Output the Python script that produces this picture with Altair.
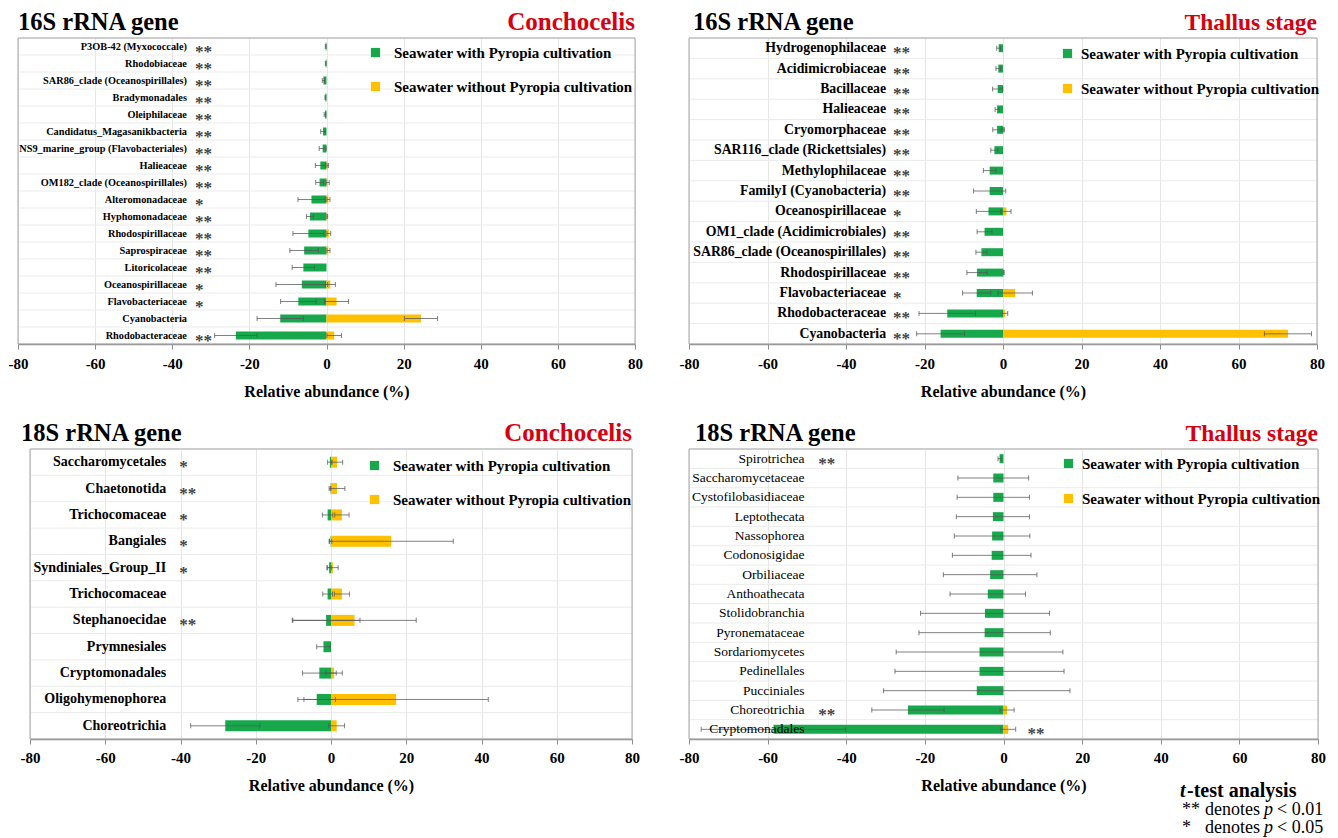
import altair as alt
import pandas as pd

GREEN = "#17A84B"
ORANGE = "#FFC000"
RED = "#D8000F"
FRAME = "#A6A6A6"
SERIF = "Liberation Serif"
GROUPS = ["Seawater with Pyropia cultivation", "Seawater without Pyropia cultivation"]

# ---------------- 16S rRNA gene, Conchocelis ----------------
names1 = ["P3OB-42 (Myxococcale)", "Rhodobiaceae", "SAR86_clade (Oceanospirillales)", "Bradymonadales",
          "Oleiphilaceae", "Candidatus_Magasanikbacteria", "NS9_marine_group (Flavobacteriales)", "Halieaceae",
          "OM182_clade (Oceanospirillales)", "Alteromonadaceae", "Hyphomonadaceae", "Rhodospirillaceae",
          "Saprospiraceae", "Litoricolaceae", "Oceanospirillaceae", "Flavobacteriaceae", "Cyanobacteria",
          "Rhodobacteraceae"]
with1 = [0.2, 0.2, 0.8, 0.3, 0.4, 0.9, 1.0, 1.6, 1.8, 3.9, 4.3, 4.7, 5.8, 6.0, 6.4, 7.3, 12.0, 23.5]
with1_sd = [0.1, 0.1, 0.3, 0.1, 0.2, 0.6, 0.9, 1.3, 1.0, 3.5, 0.9, 4.0, 3.7, 2.9, 6.7, 4.6, 6.0, 5.5]
without1 = [0, 0, 0, 0, 0, 0, 0, 0.3, 0.3, 0.5, 0.2, 0.6, 0.5, 0, 1.0, 2.6, 24.5, 2.0]
without1_sd = [0, 0, 0, 0, 0, 0, 0, 0.2, 0.4, 0.4, 0.1, 0.5, 0.4, 0, 1.3, 3.1, 4.3, 1.9]
stars1 = ["**", "**", "**", "**", "**", "**", "**", "**", "**", "*", "**", "**", "**", "**", "*", "*", "", "**"]

# ---------------- 16S rRNA gene, Thallus stage ----------------
names2 = ["Hydrogenophilaceae", "Acidimicrobiaceae", "Bacillaceae", "Halieaceae", "Cryomorphaceae",
          "SAR116_clade (Rickettsiales)", "Methylophilaceae", "FamilyI (Cyanobacteria)", "Oceanospirillaceae",
          "OM1_clade (Acidimicrobiales)", "SAR86_clade (Oceanospirillales)", "Rhodospirillaceae",
          "Flavobacteriaceae", "Rhodobacteraceae", "Cyanobacteria"]
with2 = [1.1, 1.2, 1.35, 1.5, 1.5, 2.2, 3.4, 3.4, 3.7, 4.7, 5.5, 6.6, 6.7, 14.2, 15.9]
with2_sd = [0.5, 0.6, 1.3, 0.5, 1.1, 0.9, 1.6, 4.1, 3.1, 1.9, 1.4, 2.6, 3.6, 7.2, 6.1]
without2 = [0, 0, 0, 0, 0.2, 0, 0, 0, 0.85, 0, 0, 0.2, 3.1, 0.5, 72.6]
without2_sd = [0, 0, 0, 0, 0.15, 0, 0, 0, 1.2, 0, 0, 0.1, 4.4, 0.7, 6.0]
stars2 = ["**", "**", "**", "**", "**", "**", "**", "**", "*", "**", "**", "**", "*", "**", "**"]

# ---------------- 18S rRNA gene, Conchocelis ----------------
names3 = ["Saccharomycetales", "Chaetonotida", "Trichocomaceae", "Bangiales", "Syndiniales_Group_II",
          "Trichocomaceae", "Stephanoecidae", "Prymnesiales", "Cryptomonadales", "Oligohymenophorea",
          "Choreotrichia"]
with3 = [0.3, 0.1, 0.9, 0.1, 0.5, 0.9, 1.3, 2.0, 3.1, 3.8, 28.1]
with3_sd = [0.6, 0.1, 1.4, 0.3, 0.6, 1.3, 9.0, 1.8, 4.5, 5.0, 9.2]
without3 = [1.6, 1.6, 2.9, 16.0, 0.5, 2.9, 6.25, 0, 0.8, 17.3, 1.5]
without3_sd = [1.5, 2.1, 1.9, 16.5, 1.4, 2.0, 16.4, 0, 2.2, 24.5, 2.1]
stars3 = ["*", "**", "*", "*", "*", "", "**", "", "", "", ""]

# ---------------- 18S rRNA gene, Thallus stage ----------------
names4 = ["Spirotrichea", "Saccharomycetaceae", "Cystofilobasidiaceae", "Leptothecata", "Nassophorea",
          "Codonosigidae", "Orbiliaceae", "Anthoathecata", "Stolidobranchia", "Pyronemataceae",
          "Sordariomycetes", "Pedinellales", "Pucciniales", "Choreotrichia", "Cryptomonadales"]
with4 = [1.0, 2.6, 2.6, 2.7, 2.9, 3.0, 3.4, 4.0, 4.7, 4.8, 6.1, 6.1, 6.8, 24.3, 58.5]
with4_sd = [0.4, 9.0, 9.2, 9.3, 9.6, 10.0, 11.9, 9.6, 16.4, 16.7, 21.2, 21.5, 23.7, 9.2, 18.4]
without4 = [0, 0, 0, 0, 0, 0, 0, 0, 0, 0, 0, 0, 0, 0.9, 1.2]
without4_sd = [0, 0, 0, 0, 0, 0, 0, 0, 0, 0, 0, 0, 0, 1.8, 1.9]
stars4 = ["**", "", "", "", "", "", "", "", "", "", "", "", "", "**", "**"]

ticks_x = [-80, -60, -40, -20, 0, 20, 40, 60, 80]


def panel(names, wm, wsd, om, osd, stars, star_x, label_x, gene, stage, width, height, bar_size,
          lab_size, lab_weight, legend_x, legend_y, label_offset, row_pad, label_pad,
          stage_size, gene_dx, x_off=0, extra=None):
    keys = ["r%02d" % i for i in range(len(names))]
    recs = []
    for i, k in enumerate(keys):
        recs.append(dict(key=k, group=GROUPS[0], mean=-wm[i], sd=wsd[i], zero=0.0,
                         lo=-wm[i] - wsd[i], hi=-wm[i] + wsd[i], keep=wm[i] > 0, keeps=wsd[i] > 0))
        recs.append(dict(key=k, group=GROUPS[1], mean=om[i], sd=osd[i], zero=0.0,
                         lo=om[i] - osd[i], hi=om[i] + osd[i], keep=om[i] > 0, keeps=osd[i] > 0))
    df = pd.DataFrame(recs)
    bars_df = df[df["keep"]]
    err_df = df[df["keeps"]]
    lab_df = pd.DataFrame({"key": keys, "name": names, "star": stars, "sx": star_x})

    xs = alt.Scale(domain=[-80, 80], nice=False, zero=False, range=[x_off, x_off + width])
    xaxis = alt.Axis(values=ticks_x, labelExpr="'' + datum.value", labelFont=SERIF, labelFontSize=15,
                     labelFontWeight="bold", labelColor="black", labelPadding=label_pad,
                     labelFlush=False, labelOverlap=False,
                     tickColor="#8C8C8C", tickSize=5, domainColor="#8C8C8C", domainWidth=1.5,
                     grid=True, gridColor="#E6E6E6", title="Relative abundance (%)",
                     titleFont=SERIF, titleFontSize=16, titleFontWeight="bold", titleColor="black",
                     titlePadding=12)
    ttl = "Relative abundance (%)"
    yscale = alt.Scale(paddingInner=0, paddingOuter=0)
    yaxis = alt.Axis(labels=False, ticks=False, domain=False, grid=False, title=None,
                     minExtent=0, maxExtent=0)
    Y = alt.Y("key:N", sort=keys, title=None, scale=yscale, axis=yaxis)
    Ystart = alt.Y("key:N", sort=keys, title=None, scale=yscale, axis=yaxis, bandPosition=0)

    def X(field):
        return alt.X(field, type="quantitative", scale=xs, axis=xaxis, title=ttl)

    def XD(v):
        return alt.X(datum=v, type="quantitative", scale=xs, axis=xaxis, title=ttl)

    # faint separators between rows
    seps = alt.Chart(lab_df).mark_rule(color="#EBEBEB", strokeWidth=1).encode(
        y=Ystart, x=XD(-80), x2=alt.X2(datum=80))
    bars = alt.Chart(bars_df).mark_bar(size=bar_size).encode(
        y=Y,
        x=X("mean"),
        x2="zero:Q",
        color=alt.Color("group:N", scale=alt.Scale(domain=GROUPS, range=[GREEN, ORANGE]),
                        legend=alt.Legend(orient="none", legendX=legend_x + x_off, legendY=legend_y,
                                          title=None, symbolType="square", symbolSize=85,
                                          symbolStrokeWidth=0, labelFont=SERIF, labelFontSize=15,
                                          labelFontWeight="bold", labelColor="black",
                                          labelOffset=label_offset, rowPadding=row_pad, padding=0,
                                          labelLimit=400)),
    )
    err = alt.Chart(err_df).mark_rule(color="#555555", strokeWidth=1, opacity=0.75).encode(
        y=Y, x=X("lo"), x2="hi:Q")
    caps = alt.Chart(err_df).transform_fold(["lo", "hi"], as_=["end", "pos"]).mark_tick(
        orient="vertical", size=5, thickness=1, color="#555555", opacity=0.75).encode(
        y=Y, x=X("pos"))
    labels = alt.Chart(lab_df).mark_text(align="right", baseline="middle", font=SERIF, fontSize=lab_size,
                                         fontWeight=lab_weight, color="black").encode(
        y=Y, x=XD(label_x), text="name:N")
    starm = alt.Chart(lab_df).mark_text(align="left", baseline="middle", font=SERIF, fontSize=17,
                                        fontWeight="bold", color="#444444", dy=5).encode(
        y=Y, x=X("sx"), text="star:N")
    tdf = pd.DataFrame({"gene": [gene], "stage": [stage]})
    frame = alt.Chart(tdf).mark_rect(filled=False, stroke=FRAME, strokeWidth=1).encode(
        x=XD(-80), x2=alt.X2(datum=80), y=alt.value(0), y2=alt.value(height))
    t_left = alt.Chart(tdf).mark_text(align="left", baseline="alphabetic", font=SERIF, fontSize=24.5,
                                      fontWeight="bold", color="black").encode(
        x=alt.value(x_off + gene_dx), y=alt.value(-8), text="gene:N")
    t_right = alt.Chart(tdf).mark_text(align="right", baseline="alphabetic", font=SERIF,
                                       fontSize=stage_size, fontWeight="bold", color=RED).encode(
        x=alt.value(x_off + width), y=alt.value(-8), text="stage:N")
    layers = [seps, frame, bars, err, caps, labels, starm, t_left, t_right]
    if extra is not None:
        layers += extra
    return alt.layer(*layers).properties(width=width + x_off, height=height)


# t-test annotation (panel 4)
def note(text, x, y, size, weight="normal", style="normal"):
    return alt.Chart(pd.DataFrame({"t": [text]})).mark_text(
        align="left", baseline="alphabetic", font=SERIF, fontSize=size, fontWeight=weight,
        fontStyle=style, color="black").encode(x=alt.value(x), y=alt.value(y), text="t:N")


notes = [
    note("t", 491, 348, 20, "bold", "italic"),
    note("-test analysis", 498, 348, 20, "bold"),
    note("**", 493, 366, 18), note("denotes", 516, 366, 18), note("p", 575, 366, 18, style="italic"),
    note("< 0.01", 588, 366, 18),
    note("*", 493, 384, 18), note("denotes", 516, 384, 18), note("p", 575, 384, 18, style="italic"),
    note("< 0.05", 588, 384, 18),
]

p1 = panel(names1, with1, with1_sd, without1, without1_sd, stars1, [-34.1] * len(names1), -36.2,
           "16S rRNA gene", "Conchocelis", 617, 306, 8, 10.3, "bold", 350, 7, 11, 18, 7, 25, 0)
p2 = panel(names2, with2, with2_sd, without2, without2_sd, stars2, [-28.0] * len(names2), -29.8,
           "16S rRNA gene", "Thallus stage", 628, 306, 8, 13.8, "bold", 371, 8, 6, 19, 7, 23.5, 4)
p3 = panel(names3, with3, with3_sd, without3, without3_sd, stars3, [-40.3] * len(names3), -43.8,
           "18S rRNA gene", "Conchocelis", 602, 290, 11, 14, "bold", 337, 9, 11, 18, 6, 25, -9, x_off=12)
p4 = panel(names4, with4, with4_sd, without4, without4_sd, stars4, [-47.1] * 14 + [6.1], -50.6,
           "18S rRNA gene", "Thallus stage", 629, 290, 9, 13.5, "normal", 372, 7, 6, 19, 6, 23.5, 6,
           extra=notes)

chart = alt.concat(p1, p2, p3, p4, columns=2, spacing={"row": 22, "column": 36}).properties(
    padding={"left": 0, "top": 2, "right": 0, "bottom": 0}
).resolve_scale(color="independent").resolve_legend(color="independent").configure_view(
    stroke="transparent", strokeWidth=0)

chart.save("out.html", embed_options={"renderer": "svg", "actions": False})
